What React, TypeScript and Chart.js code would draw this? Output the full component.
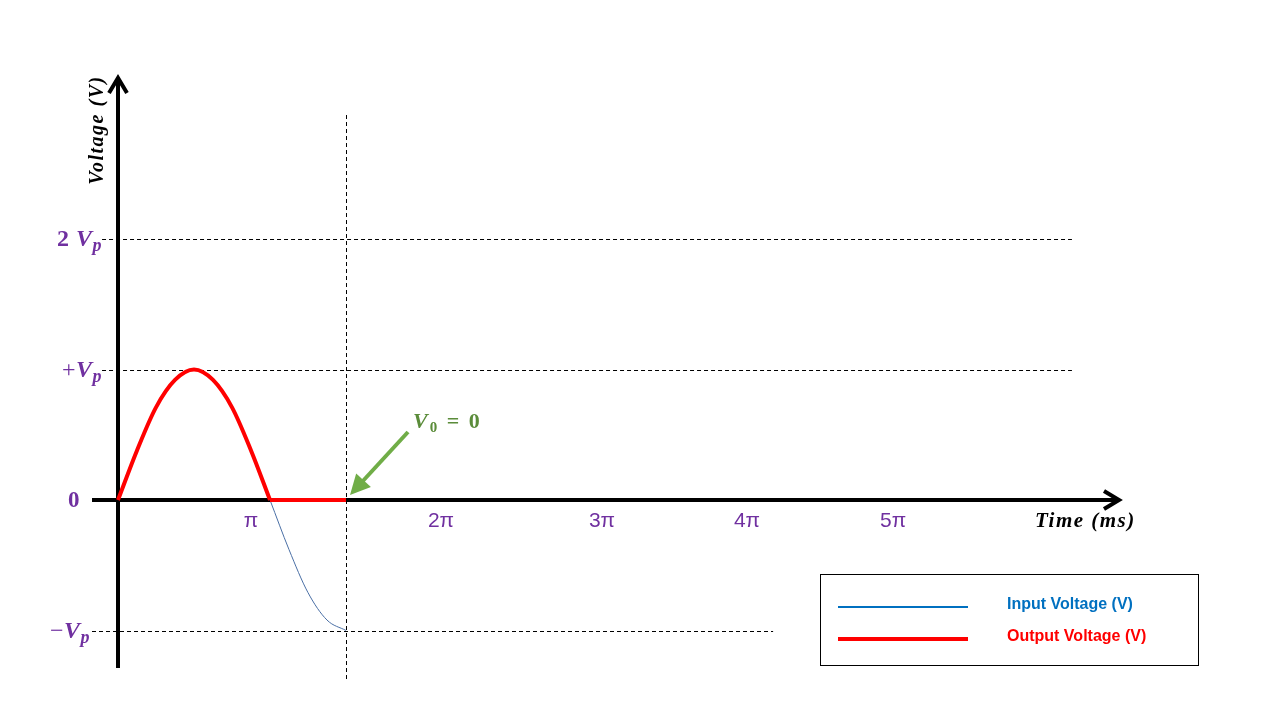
import React, { useEffect, useRef } from "react";
import { Chart, registerables } from "chart.js";

Chart.register(...registerables);

// time in units of π
const inputT = [0, 0.125, 0.25, 0.375, 0.5, 0.625, 0.75, 0.875, 1, 1.125, 1.25, 1.375, 1.5];
const inputV = [0, 0.38, 0.71, 0.92, 1, 0.92, 0.71, 0.38, 0, -0.38, -0.71, -0.92, -1];
const outputT = [0, 0.125, 0.25, 0.375, 0.5, 0.625, 0.75, 0.875, 1];
const outputV = [0, 0.38, 0.71, 0.92, 1, 0.92, 0.71, 0.38, 0];
const clampT = [1, 1.5];
const clampV = [0, 0];

const xTickValues = [0.875, 2.125, 3.184, 4.138, 5.099];
const xTickLabels = ["π", "2π", "3π", "4π", "5π"];

const yLevels = [2, 1, 0, -1];
const yLevelPrefix = ["2 ", "+", "", "−"];
const seriesNames = ["Input Voltage (V)", "Output Voltage (V)"];

const PURPLE = "#7030A0";
const SERIF = "'Liberation Serif', 'DejaVu Serif', serif";
const SANS = "'Liberation Sans', 'DejaVu Sans', sans-serif";

type Run = { t: string; font: string; dy?: number };

function drawRuns(
  ctx: CanvasRenderingContext2D,
  runs: Run[],
  x: number,
  y: number,
  align: "left" | "right" | "center",
  color: string,
  spacing = 0
) {
  ctx.save();
  ctx.fillStyle = color;
  ctx.textBaseline = "alphabetic";
  ctx.textAlign = "left";
  (ctx as any).letterSpacing = spacing + "px";
  let total = 0;
  for (const r of runs) {
    ctx.font = r.font;
    total += ctx.measureText(r.t).width;
  }
  let cx = align === "left" ? x : align === "right" ? x - total : x - total / 2;
  for (const r of runs) {
    ctx.font = r.font;
    ctx.fillText(r.t, cx, y + (r.dy || 0));
    cx += ctx.measureText(r.t).width;
  }
  ctx.restore();
}

const diagramPlugin = {
  id: "diagram",
  beforeDatasetsDraw(chart: any) {
    const ctx: CanvasRenderingContext2D = chart.ctx;
    const xs = chart.scales.x;
    const ys = chart.scales.y;
    const X = (v: number) => xs.getPixelForValue(v);
    const Y = (v: number) => ys.getPixelForValue(v);
    ctx.save();
    // dashed reference lines
    ctx.strokeStyle = "#000";
    ctx.lineWidth = 1;
    ctx.setLineDash([4, 3]);
    const hLines: [number, number, number][] = [
      [2, -0.105, 6.276],
      [1, -0.105, 6.276],
      [-1, -0.171, 4.31],
    ];
    for (const [v, a, b] of hLines) {
      ctx.beginPath();
      ctx.moveTo(X(a), Math.round(Y(v)) + 0.5);
      ctx.lineTo(X(b), Math.round(Y(v)) + 0.5);
      ctx.stroke();
    }
    ctx.beginPath();
    const vx = Math.round(X(1.5)) + 0.5;
    ctx.moveTo(vx, Y(2.95));
    ctx.lineTo(vx, Y(-1.38));
    ctx.stroke();
    ctx.setLineDash([]);

    // axes
    ctx.lineWidth = 4;
    ctx.lineCap = "butt";
    ctx.lineJoin = "miter";
    const x0 = X(0);
    const y0 = Y(0);
    // y axis
    ctx.beginPath();
    ctx.moveTo(x0, Y(-1.287));
    ctx.lineTo(x0, 78);
    ctx.stroke();
    ctx.beginPath();
    ctx.moveTo(x0 - 9, 93);
    ctx.lineTo(x0, 78);
    ctx.lineTo(x0 + 9, 93);
    ctx.stroke();
    // x axis
    ctx.beginPath();
    ctx.moveTo(X(-0.171), y0);
    ctx.lineTo(1119, y0);
    ctx.stroke();
    ctx.beginPath();
    ctx.moveTo(1104, y0 - 9);
    ctx.lineTo(1119, y0);
    ctx.lineTo(1104, y0 + 9);
    ctx.stroke();
    ctx.restore();
  },
  afterDatasetsDraw(chart: any) {
    const ctx: CanvasRenderingContext2D = chart.ctx;
    const xs = chart.scales.x;
    const ys = chart.scales.y;
    const X = (v: number) => xs.getPixelForValue(v);
    const Y = (v: number) => ys.getPixelForValue(v);

    // y level labels
    const rightEdges = [102, 102, 80, 90];
    yLevels.forEach((v, i) => {
      const base = Y(v) + 7;
      const runs: Run[] = [];
      if (v === 0) {
        runs.push({ t: "0", font: `bold 23px ${SERIF}` });
      } else {
        const pre = yLevelPrefix[i];
        runs.push({ t: pre, font: (pre === "2 " ? "bold " : "") + `24px ${SERIF}` });
        runs.push({ t: "V", font: `italic bold 24px ${SERIF}` });
        runs.push({ t: "p", font: `italic bold 18px ${SERIF}`, dy: 5 });
      }
      drawRuns(ctx, runs, rightEdges[i], base, "right", PURPLE, 0.5);
    });

    // x tick labels
    xTickValues.forEach((v, i) => {
      drawRuns(ctx, [{ t: xTickLabels[i], font: `21px ${SANS}` }], X(v), Y(0) + 27, "center", PURPLE);
    });

    // axis titles
    drawRuns(
      ctx,
      [
        { t: "Time ", font: `italic bold 21px ${SERIF}` },
        { t: "(ms)", font: `italic bold 21px ${SERIF}` },
      ],
      1035,
      Y(0) + 27,
      "left",
      "#000",
      1.5
    );
    ctx.save();
    ctx.translate(103, 130);
    ctx.rotate(-Math.PI / 2);
    drawRuns(ctx, [{ t: "Voltage (V)", font: `italic bold 20px ${SERIF}` }], 0, 0, "center", "#000", 1.5);
    ctx.restore();

    // V0 = 0 annotation
    drawRuns(
      ctx,
      [
        { t: "V", font: `italic bold 22px ${SERIF}` },
        { t: "0", font: `bold 15px ${SERIF}`, dy: 4 },
        { t: " = 0", font: `bold 22px ${SERIF}` },
      ],
      413,
      428,
      "left",
      "#5B8C3A",
      2
    );
    // green arrow
    ctx.save();
    const sx = 408, sy = 432;
    const tx = X(1.5) + 4, ty = Y(0) - 5;
    const dx = tx - sx, dy = ty - sy;
    const len = Math.hypot(dx, dy);
    const ux = dx / len, uy = dy / len;
    const hl = 20, hw = 10;
    const bx = tx - ux * hl, by = ty - uy * hl;
    ctx.strokeStyle = "#70AD47";
    ctx.fillStyle = "#70AD47";
    ctx.lineWidth = 4;
    ctx.beginPath();
    ctx.moveTo(sx, sy);
    ctx.lineTo(bx + ux * 2, by + uy * 2);
    ctx.stroke();
    ctx.beginPath();
    ctx.moveTo(tx, ty);
    ctx.lineTo(bx - uy * hw, by + ux * hw);
    ctx.lineTo(bx + uy * hw, by - ux * hw);
    ctx.closePath();
    ctx.fill();
    ctx.restore();

    // legend box
    ctx.save();
    ctx.strokeStyle = "#000";
    ctx.lineWidth = 1;
    ctx.strokeRect(820.5, 574.5, 378, 91);
    const ds = chart.data.datasets;
    const rows = [607, 639];
    [0, 1].forEach((k) => {
      ctx.strokeStyle = k === 0 ? "#0070C0" : ds[1].borderColor;
      ctx.lineWidth = k === 0 ? 2 : 4;
      ctx.beginPath();
      ctx.moveTo(838, rows[k]);
      ctx.lineTo(968, rows[k]);
      ctx.stroke();
      drawRuns(ctx, [{ t: seriesNames[k], font: `bold 16px ${SANS}` }], 1007, rows[k] + 2, "left", k === 0 ? "#0070C0" : "#FF0000");
    });
    ctx.restore();
  },
};

export default function App() {
  const ref = useRef<HTMLCanvasElement | null>(null);
  useEffect(() => {
    if (!ref.current) return;
    const pxPerPi = 152;
    const pxPerV = 130.5;
    const originX = 118;
    const originY = 500;
    const chart = new Chart(ref.current, {
      type: "line",
      data: {
        datasets: [
          {
            label: seriesNames[0],
            data: inputT.map((t, i) => ({ x: t, y: inputV[i] })),
            borderColor: "#4a6fa5",
            borderWidth: 1,
            pointRadius: 0,
            cubicInterpolationMode: "monotone",
            order: 2,
          },
          {
            label: seriesNames[1],
            data: outputT.map((t, i) => ({ x: t, y: outputV[i] })),
            borderColor: "#FF0000",
            borderWidth: 4,
            pointRadius: 0,
            cubicInterpolationMode: "monotone",
            order: 1,
          },
          {
            label: "clamp",
            data: clampT.map((t, i) => ({ x: t, y: clampV[i] })),
            borderColor: "#FF0000",
            borderWidth: 4,
            pointRadius: 0,
            order: 1,
          },
        ],
      },
      options: {
        responsive: false,
        animation: false,
        devicePixelRatio: 1,
        layout: { padding: 0 },
        plugins: { legend: { display: false }, tooltip: { enabled: false } },
        scales: {
          x: {
            type: "linear",
            display: false,
            min: -originX / pxPerPi,
            max: (1280 - originX) / pxPerPi,
          },
          y: {
            type: "linear",
            display: false,
            min: -(720 - originY) / pxPerV,
            max: originY / pxPerV,
          },
        },
      } as any,
      plugins: [diagramPlugin],
    });
    return () => chart.destroy();
  }, []);
  return (
    <div style={{ position: "fixed", left: 0, top: 0, width: 1280, height: 720, background: "#fff" }}>
      <canvas ref={ref} width={1280} height={720} style={{ display: "block" }} />
    </div>
  );
}
